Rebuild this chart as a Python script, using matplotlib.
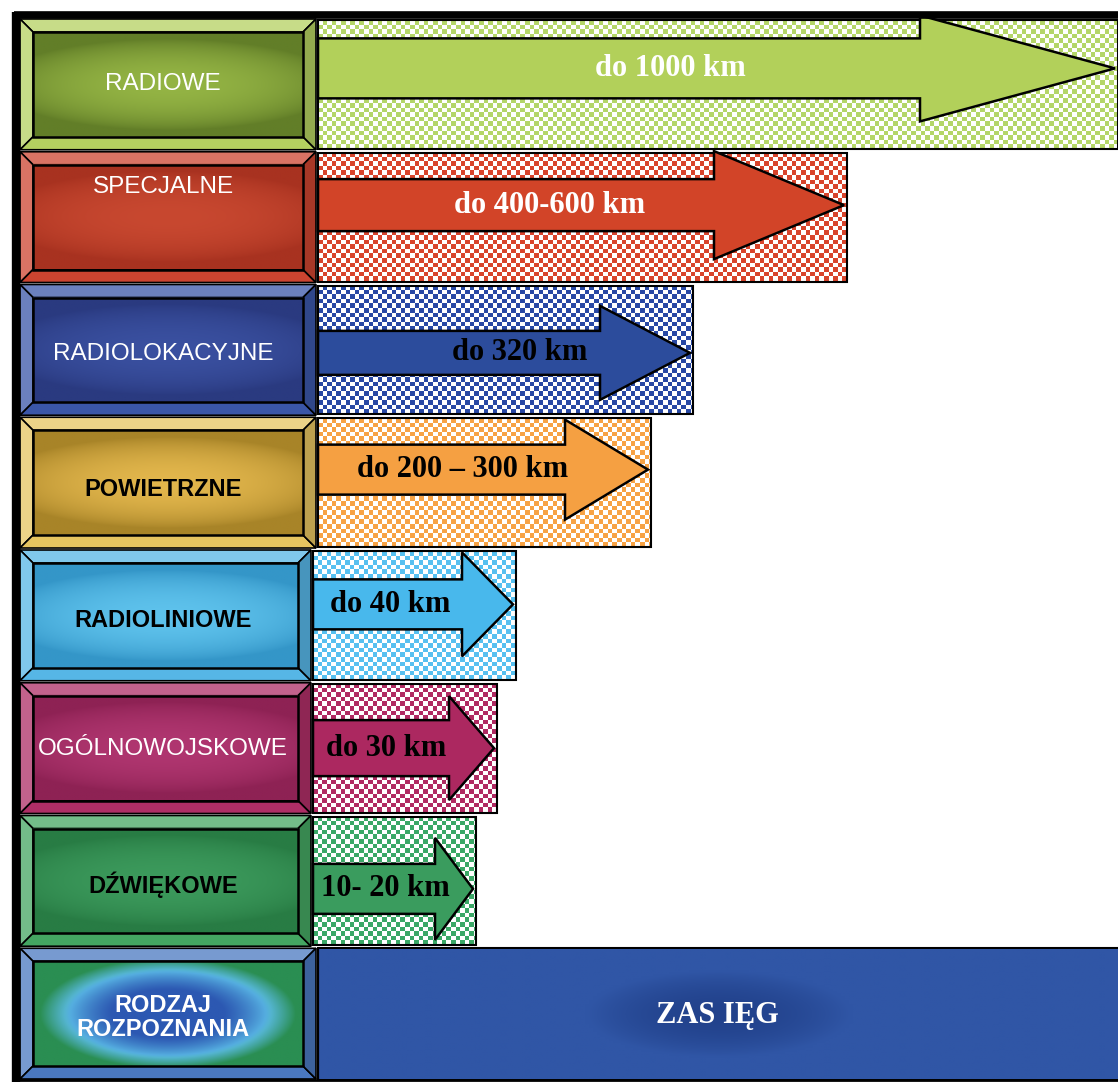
import numpy as np
import matplotlib
matplotlib.use("Agg")
import matplotlib.pyplot as plt
from matplotlib.patches import Polygon, Rectangle
from matplotlib.colors import to_rgb

W, H = 1118, 1083

# dane
rodzaje = ["RADIOWE", "SPECJALNE", "RADIOLOKACYJNE", "POWIETRZNE",
           "RADIOLINIOWE", "OGÓLNOWOJSKOWE", "DŹWIĘKOWE"]
zasieg = ["do 1000 km", "do 400-600 km", "do 320 km", "do 200 – 300 km",
          "do 40 km", "do 30 km", "10- 20 km"]
koniec = [1118, 847, 693, 651, 516, 497, 476]   # prawy koniec paska
naglowek_lewy = "RODZAJ\nROZPOZNANIA"
naglowek_prawy = "ZAS IĘG"

# styl
start = [318, 318, 318, 318, 313, 313, 313]
head_len = [195, 130, 90, 83, 51, 45, 38]
shaft_h = [30, 26, 22, 25, 25, 28, 25]
head_h = [53, 54, 47, 50, 52, 52, 51]
arrow_dy = [-16, -12, 3, -13, -11, 0, 8]
txt_x = [670, 550, 520, 463, 390, 386, 385]
txt_col = ['white', 'white', 'black', 'black', 'black', 'black', 'black']
lab_col = ['white', 'white', 'white', 'black', 'black', 'white', 'black']
lab_bold = [False, False, False, True, True, False, True]
lab_dy = [0, -30, 4, 7, 5, 1, 4]

bevel = ['#b4d060', '#cc4430', '#3a56a8', '#e6c460', '#56b6e6', '#ae2e66', '#44a662', '#4a78c0']
in_dark = ['#627e28', '#a83220', '#2a3a80', '#a88428', '#3496c8', '#8e2254', '#287c44', '#2a8e52']
in_light = ['#94b444', '#c84830', '#3a50a0', '#e2b64c', '#5ec2ec', '#b03670', '#3c9a5c', '#2c58b2']
checker = ['#b4d668', '#d8442c', '#2848a4', '#f7a244', '#56c0f0', '#b02a62', '#3aa866']
arrow_col = ['#b2d05a', '#d24428', '#2c4c9c', '#f5a042', '#48b8ec', '#ac2860', '#3a9c5e']

top, bottom = 18, 1080
row_h = (bottom - top) / 8

fig = plt.figure(figsize=(W / 100, H / 100), dpi=100)
ax = fig.add_axes([0, 0, 1, 1])
ax.set_axis_off()


def bevel_box(x0, x1, y0, y1, base, dark, light, b=13, glow=False):
    c = np.array(to_rgb(base))
    lite = c + (1 - c) * 0.25
    shade = c * 0.82
    kw = dict(ec='black', lw=1.2, zorder=2)
    ax.add_patch(Polygon([(x0, y0), (x1, y0), (x1 - b, y0 + b), (x0 + b, y0 + b)], fc=lite, **kw))
    ax.add_patch(Polygon([(x0, y0), (x0 + b, y0 + b), (x0 + b, y1 - b), (x0, y1)], fc=lite, **kw))
    ax.add_patch(Polygon([(x0, y1), (x0 + b, y1 - b), (x1 - b, y1 - b), (x1, y1)], fc=c, **kw))
    ax.add_patch(Polygon([(x1, y0), (x1, y1), (x1 - b, y1 - b), (x1 - b, y0 + b)], fc=shade, **kw))
    xx, yy = np.meshgrid(np.linspace(-1, 1, 160), np.linspace(-1, 1, 80))
    d, l = np.array(to_rgb(dark)), np.array(to_rgb(light))
    if glow:
        halo = np.array(to_rgb('#5cbce8'))
        t2 = np.clip(1 - (xx ** 2 * 1.1 + yy ** 2 * 0.9), 0, 1)
        img = d + (halo - d) * np.clip(t2 * 2.4, 0, 1)[..., None]
        img = img + (l - img) * np.clip((t2 - 0.35) * 2.2, 0, 1)[..., None]
    else:
        t = np.clip(1 - (xx ** 2 * 0.6 + yy ** 2 * 1.3), 0, 1) ** 0.8
        img = d + (l - d) * t[..., None]
    ax.imshow(img, extent=(x0 + b, x1 - b, y1 - b, y0 + b), interpolation='bilinear',
              aspect='auto', zorder=2.5)
    ax.add_patch(Rectangle((x0 + b, y0 + b), x1 - x0 - 2 * b, y1 - y0 - 2 * b,
                           fill=False, ec='black', lw=1.8, zorder=3))


def checker_img(x0, x1, y0, y1, color, clip, cell=4.6):
    nx = int((x1 - x0) / cell) + 1
    ny = int((y1 - y0) / cell) + 1
    m = (np.add.outer(np.arange(ny), np.arange(nx)) % 2).astype(bool)
    rgb = np.ones((ny, nx, 3))
    rgb[m] = to_rgb(color)
    im = ax.imshow(rgb, extent=(x0, x0 + nx * cell, y0 + ny * cell, y0),
                   interpolation='nearest', aspect='auto', zorder=1.5)
    im.set_clip_path(clip)


centers = [top + (i + 0.5) * row_h for i in range(8)]
widths = [k - s for k, s in zip(koniec, start)]

bars = ax.barh(centers[:7], widths, left=start, height=row_h - 4,
               fc='none', ec='black', lw=1.5, zorder=4)

for i, bar in enumerate(bars):
    y0 = centers[i] - (row_h - 4) / 2
    y1 = centers[i] + (row_h - 4) / 2
    checker_img(start[i], koniec[i], y0, y1, checker[i], bar)
    # strzalka
    cy = centers[i] + arrow_dy[i]
    tip = koniec[i] - 3
    hb = tip - head_len[i]
    s, hh = shaft_h[i], head_h[i]
    pts = [(start[i], cy - s), (hb, cy - s), (hb, cy - hh), (tip, cy),
           (hb, cy + hh), (hb, cy + s), (start[i], cy + s)]
    ax.add_patch(Polygon(pts, closed=True, fc=arrow_col[i], ec='black', lw=1.8, zorder=5))
    ax.text(txt_x[i], cy, zasieg[i], color=txt_col[i], fontsize=22, fontweight='bold',
            family='Liberation Serif', ha='center', va='center', zorder=6)
    # lewe pole
    bevel_box(20, start[i] - 2, y0 - 1, y1 + 1, bevel[i], in_dark[i], in_light[i])
    ax.text(163, centers[i] + lab_dy[i], rodzaje[i], color=lab_col[i],
            fontsize=17 if lab_bold[i] else 17.5,
            fontweight='bold' if lab_bold[i] else 'normal', family='Liberation Sans',
            ha='center', va='center', zorder=6)

# wiersz naglowka
yb0 = centers[7] - row_h / 2 + 1
yb1 = bottom
ax.barh(centers[7], W - 318, left=318, height=yb1 - yb0, fc='#2d4f9e', ec='black', lw=1.5, zorder=1)
xx, yy = np.meshgrid(np.linspace(-1, 1, 200), np.linspace(-1, 1, 60))
tt = np.clip(1 - (xx ** 2 * 9 + yy ** 2 * 2.2), 0, 1)
base = np.array(to_rgb('#3056a6'))
darkc = np.array(to_rgb('#22428c'))
ax.imshow(base + (darkc - base) * tt[..., None], extent=(320, W, yb1 - 1, yb0 + 1),
          interpolation='bilinear', aspect='auto', zorder=1.2)
ax.text(717, centers[7] + 2, naglowek_prawy, color='white', fontsize=22, fontweight='bold',
        family='Liberation Serif', ha='center', va='center', zorder=6)
bevel_box(20, 316, yb0, yb1 - 1, bevel[7], in_dark[7], in_light[7], glow=True)
ax.text(163, centers[7] + 4, naglowek_lewy, color='white', fontsize=17, fontweight='bold',
        family='Liberation Sans', ha='center', va='center', linespacing=1.05, zorder=6)

# ramka
ax.plot([14, W], [14.5, 14.5], color='black', lw=5.5, solid_capstyle='butt', zorder=7)
ax.plot([16, 16], [12, bottom + 2], color='black', lw=6, solid_capstyle='butt', zorder=7)
ax.plot([14, W], [bottom, bottom], color='black', lw=2, zorder=7)

ax.set_xlim(0, W)
ax.set_ylim(H, 0)
fig.savefig("out.png", dpi=100)
